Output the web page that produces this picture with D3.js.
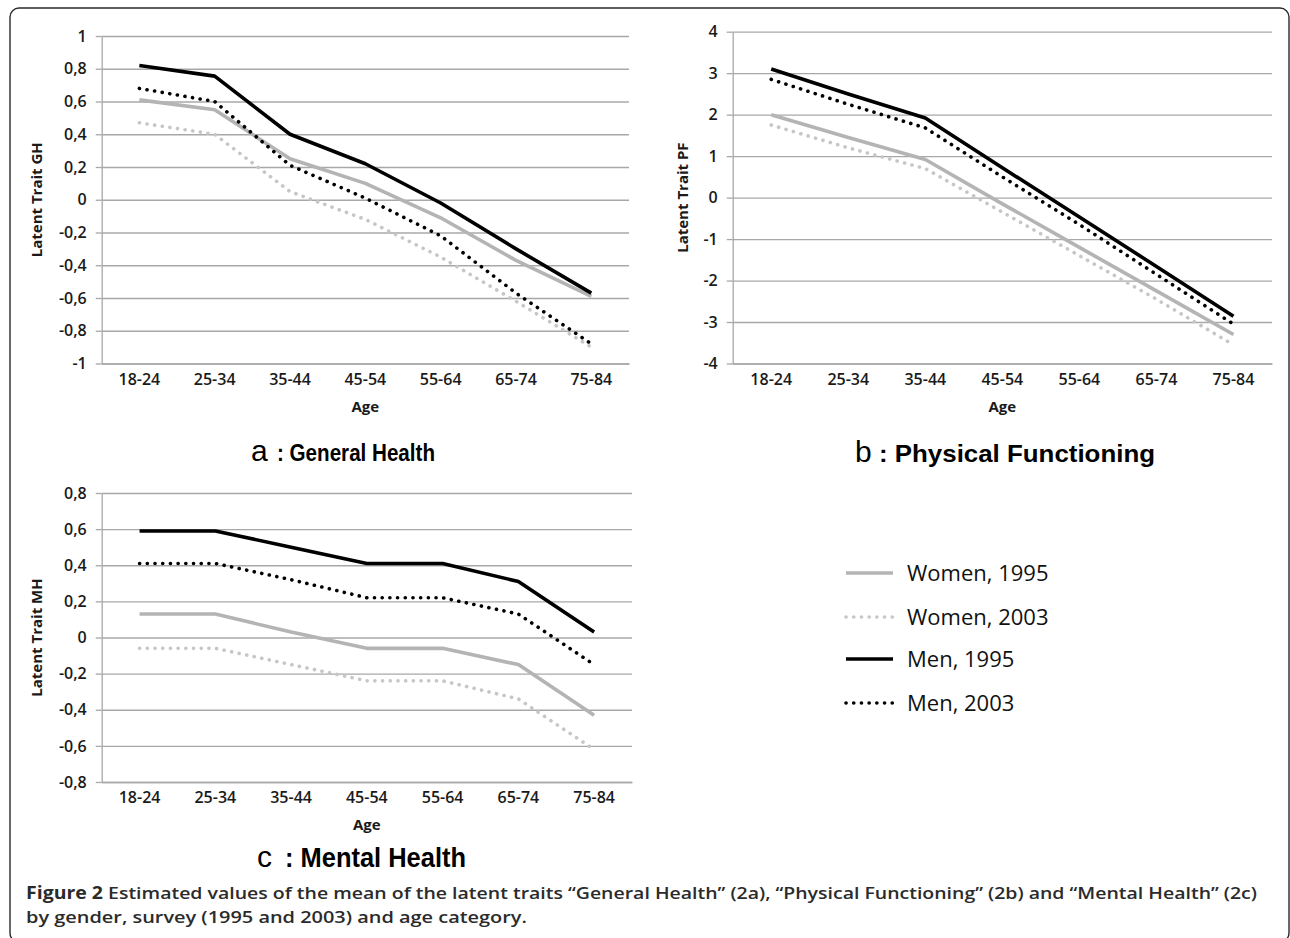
<!DOCTYPE html>
<html>
<head>
<meta charset="utf-8">
<script src="https://cdn.jsdelivr.net/npm/d3@7"></script>
<style>
  html, body { margin: 0; padding: 0; background: #fff; }
  svg { display: block; }
  .grid line { stroke: #a8a8a8; stroke-width: 1.3; }
  .grid .domain { display: none; }
  .yaxis .domain, .yaxis line { stroke: #a8a8a8; stroke-width: 1.3; }
  .xaxis .domain { stroke: #a8a8a8; stroke-width: 1.3; }
  .yaxis text, .xaxis text { font-family: "Open Sans", sans-serif; font-weight: 600; font-size: 16px; fill: #1a1a1a; }
</style>
</head>
<body>
<div id="chart"></div>
<script>

const ageGroups = ["18-24", "25-34", "35-44", "45-54", "55-64", "65-74", "75-84"];
const seriesNames = ["Women, 1995", "Women, 2003", "Men, 1995", "Men, 2003"];

// a: General Health
const ghTicks = [-1, -0.8, -0.6, -0.4, -0.2, 0, 0.2, 0.4, 0.6, 0.8, 1];
const ghWomen1995 = [0.61, 0.55, 0.25, 0.10, -0.11, -0.37, -0.59];
const ghWomen2003 = [0.47, 0.40, 0.05, -0.12, -0.35, -0.62, -0.90];
const ghMen1995 = [0.82, 0.755, 0.40, 0.22, -0.02, -0.30, -0.57];
const ghMen2003 = [0.68, 0.60, 0.21, 0.01, -0.22, -0.57, -0.88];

// b: Physical Functioning
const pfTicks = [-4, -3, -2, -1, 0, 1, 2, 3, 4];
const pfWomen1995 = [2.0, 1.45, 0.92, -0.15, -1.2, -2.25, -3.3];
const pfWomen2003 = [1.75, 1.2, 0.70, -0.35, -1.4, -2.45, -3.55];
const pfMen1995 = [3.1, 2.5, 1.92, 0.72, -0.47, -1.66, -2.86];
const pfMen2003 = [2.85, 2.25, 1.68, 0.5, -0.65, -1.85, -3.05];

// c: Mental Health
const mhTicks = [-0.8, -0.6, -0.4, -0.2, 0, 0.2, 0.4, 0.6, 0.8];
const mhWomen1995 = [0.13, 0.13, 0.03, -0.06, -0.06, -0.15, -0.43];
const mhWomen2003 = [-0.06, -0.06, -0.15, -0.24, -0.24, -0.34, -0.62];
const mhMen1995 = [0.59, 0.59, 0.50, 0.41, 0.41, 0.31, 0.03];
const mhMen2003 = [0.41, 0.41, 0.32, 0.22, 0.22, 0.13, -0.15];

const lineStyles = [
  { color: "#b4b4b4", dash: null },
  { color: "#c6c6c6", dash: "0.1 7.6" },
  { color: "#000000", dash: null },
  { color: "#000000", dash: "0.1 7.6" }
];

const commaFormat = d => String(+d.toFixed(1)).replace(".", ",");

const svg = d3.select("#chart").append("svg")
  .attr("width", 1290)
  .attr("height", 938);

// frame
svg.append("rect")
  .attr("x", 10).attr("y", 8)
  .attr("width", 1279).attr("height", 934)
  .attr("rx", 9)
  .attr("fill", "none")
  .attr("stroke", "#2a2a2a")
  .attr("stroke-width", 1.4);

function drawPanel(p) {
  const x = d3.scaleBand()
    .domain(ageGroups)
    .range([p.left, p.right]);

  const y = d3.scaleLinear()
    .domain([p.ticks[0], p.ticks[p.ticks.length - 1]])
    .range([p.bottom, p.top]);

  const g = svg.append("g");

  g.append("g")
    .attr("class", "grid")
    .attr("transform", "translate(" + p.left + ",0)")
    .call(d3.axisLeft(y).tickValues(p.ticks).tickSize(-(p.right - p.left)).tickFormat(""));

  g.append("g")
    .attr("class", "yaxis")
    .attr("transform", "translate(" + p.left + ",0)")
    .call(d3.axisLeft(y).tickValues(p.ticks).tickSizeInner(6).tickSizeOuter(0).tickPadding(9).tickFormat(commaFormat));

  g.append("g")
    .attr("class", "xaxis")
    .attr("transform", "translate(0," + p.bottom + ")")
    .call(d3.axisBottom(x).tickSize(0).tickPadding(10));

  g.append("text")
    .attr("x", (p.left + p.right) / 2)
    .attr("y", p.bottom + 48)
    .attr("text-anchor", "middle")
    .style("font-family", "'Open Sans', sans-serif")
    .style("font-weight", 700)
    .style("font-size", "15px")
    .attr("fill", "#1a1a1a")
    .text("Age");

  g.append("text")
    .attr("transform", "translate(" + p.titleX + "," + (p.top + p.bottom) / 2 + ") rotate(-90)")
    .attr("text-anchor", "middle")
    .attr("dy", "0.35em")
    .style("font-family", "'Open Sans', sans-serif")
    .style("font-weight", 700)
    .style("font-size", "15px")
    .attr("fill", "#1a1a1a")
    .text(p.yTitle);

  const line = d3.line()
    .x((d, i) => x(ageGroups[i]) + x.bandwidth() / 2)
    .y(d => y(d));

  p.series.forEach((values, k) => {
    g.append("path")
      .datum(values)
      .attr("d", line)
      .attr("fill", "none")
      .attr("stroke", lineStyles[k].color)
      .attr("stroke-width", 3.6)
      .attr("stroke-linecap", lineStyles[k].dash ? "round" : "butt")
      .attr("stroke-linejoin", "round")
      .attr("stroke-dasharray", lineStyles[k].dash);
  });
}

drawPanel({
  left: 101.7, right: 629, top: 36, bottom: 363.5,
  ticks: ghTicks, yTitle: "Latent Trait GH", titleX: 37,
  series: [ghWomen1995, ghWomen2003, ghMen1995, ghMen2003]
});

drawPanel({
  left: 732.7, right: 1272, top: 31.7, bottom: 363.5,
  ticks: pfTicks, yTitle: "Latent Trait PF", titleX: 683,
  series: [pfWomen1995, pfWomen2003, pfMen1995, pfMen2003]
});

drawPanel({
  left: 101.7, right: 632, top: 493, bottom: 782,
  ticks: mhTicks, yTitle: "Latent Trait MH", titleX: 37,
  series: [mhWomen1995, mhWomen2003, mhMen1995, mhMen2003]
});

// panel titles: thin letter, then bold label squeezed to the width seen in the figure
function panelTitle(x, y, letter, restX, restLen, rest, restSize) {
  svg.append("text")
    .attr("x", x).attr("y", y)
    .attr("fill", "#000")
    .style("font-family", "'Liberation Sans', Arial, sans-serif")
    .style("font-size", "30px")
    .text(letter);
  svg.append("text")
    .attr("x", restX).attr("y", y)
    .attr("fill", "#000")
    .attr("textLength", restLen)
    .attr("lengthAdjust", "spacingAndGlyphs")
    .style("font-family", "'Liberation Sans', Arial, sans-serif")
    .style("font-weight", 700)
    .style("font-size", restSize)
    .text(rest);
}
panelTitle(251, 461, "a", 277, 158, ": General Health", "24px");
panelTitle(855, 462, "b", 879, 276, ": Physical Functioning", "24px");
panelTitle(257, 867, "c", 285, 181, ": Mental Health", "27px");

// legend
const legend = svg.append("g");
const legendRowY = [573, 617, 659, 703];
seriesNames.forEach((name, k) => {
  legend.append("line")
    .attr("x1", 846).attr("x2", 893)
    .attr("y1", legendRowY[k]).attr("y2", legendRowY[k])
    .attr("stroke", lineStyles[k].color)
    .attr("stroke-width", 3.6)
    .attr("stroke-linecap", lineStyles[k].dash ? "round" : "butt")
    .attr("stroke-dasharray", lineStyles[k].dash);
  legend.append("text")
    .attr("x", 907)
    .attr("y", legendRowY[k])
    .attr("dy", "0.36em")
    .style("font-family", "'Open Sans', sans-serif")
    .style("font-size", "22px")
    .attr("fill", "#111")
    .text(name);
});

// caption
const cap1 = svg.append("text")
  .attr("x", 26).attr("y", 899)
  .style("font-family", "'Open Sans', sans-serif")
  .style("font-size", "17px")
  .style("font-weight", 600)
  .attr("fill", "#2b2b2b")
  .attr("textLength", 1231)
  .attr("lengthAdjust", "spacingAndGlyphs");
cap1.append("tspan").style("font-weight", 700).text("Figure 2");
cap1.append("tspan").text(" Estimated values of the mean of the latent traits \u201cGeneral Health\u201d (2a), \u201cPhysical Functioning\u201d (2b) and \u201cMental Health\u201d (2c)");

svg.append("text")
  .attr("x", 26).attr("y", 923)
  .style("font-family", "'Open Sans', sans-serif")
  .style("font-size", "17px")
  .style("font-weight", 600)
  .attr("fill", "#2b2b2b")
  .attr("textLength", 501)
  .attr("lengthAdjust", "spacingAndGlyphs")
  .text("by gender, survey (1995 and 2003) and age category.");

</script>
</body>
</html>
